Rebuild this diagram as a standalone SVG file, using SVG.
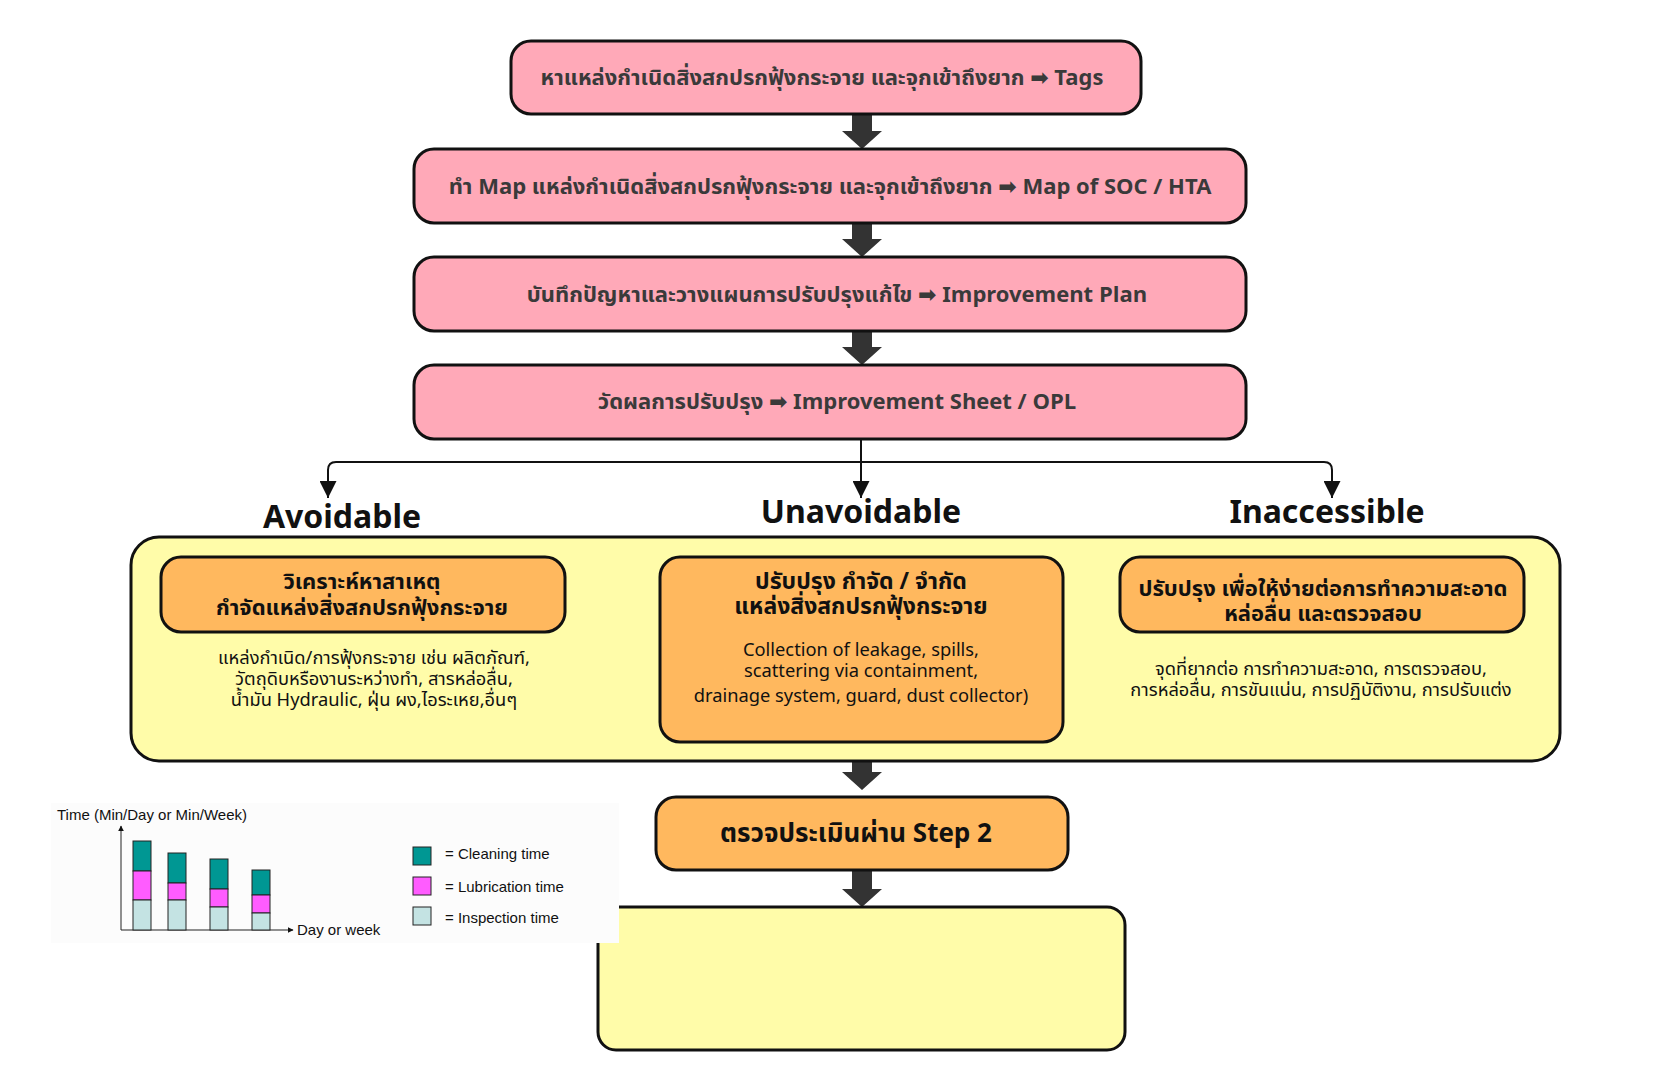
<svg xmlns="http://www.w3.org/2000/svg" width="1680" height="1080" viewBox="0 0 1680 1080">
  <defs>
    <style>
      .th { font-family: "Noto Sans Thai", "Noto Sans", "DejaVu Sans", sans-serif; }
      .step { fill: #ffa9b8; stroke: #111; stroke-width: 3; }
      .zone { fill: #fffca9; stroke: #111; stroke-width: 3; }
      .act { fill: #ffb85e; stroke: #111; stroke-width: 3; }
      .steptxt { font-size: 22px; font-weight: 700; fill: #3a3a3a; text-anchor: middle; }
      .acttxt { font-size: 22px; font-weight: 700; fill: #111; text-anchor: middle; }
      .note { font-size: 18.3px; fill: #111; text-anchor: middle; }
      .head { font-family: "Noto Sans", "DejaVu Sans", sans-serif; font-size: 32px; font-weight: 700; fill: #111; text-anchor: middle; }
      .arr { font-family: "DejaVu Sans", sans-serif; }
      .flow { fill: #333; }
      .branch { fill: none; stroke: #111; stroke-width: 2; }
      .chart { font-family: "Liberation Sans", Arial, sans-serif; font-size: 15px; fill: #111; }
      .bar { stroke: #222; stroke-width: 1; }
    </style>
    <marker id="tri" viewBox="0 0 10 10" refX="10" refY="5" markerWidth="17" markerHeight="17" markerUnits="userSpaceOnUse" orient="auto">
      <path d="M0,0 L10,5 L0,10 Z" fill="#111"/>
    </marker>
    <marker id="tri-s" viewBox="0 0 10 10" refX="9" refY="5" markerWidth="6" markerHeight="6" markerUnits="userSpaceOnUse" orient="auto">
      <path d="M0,0 L10,5 L0,10 Z" fill="#111"/>
    </marker>
    <!-- thick downward block arrow, origin at tip -->
    <path id="down" d="M-10,-42 H10 V-18 H20 L0,0 L-20,-18 H-10 Z"/>
  </defs>

  <rect width="1680" height="1080" fill="#fff"/>

  <!-- connectors -->
  <g id="connectors">
    <use href="#down" class="flow" x="862" y="149"/>
    <use href="#down" class="flow" x="862" y="257"/>
    <use href="#down" class="flow" x="862" y="365"/>
    <path class="branch" d="M861,439 V498" marker-end="url(#tri)"/>
    <path class="branch" d="M861,462 H336 Q328,462 328,470 V498" marker-end="url(#tri)"/>
    <path class="branch" d="M861,462 H1324 Q1332,462 1332,470 V498" marker-end="url(#tri)"/>
    <use href="#down" class="flow" x="862" y="790"/>
    <use href="#down" class="flow" x="862" y="907"/>
  </g>

  <!-- sequential steps -->
  <g id="step-tags">
    <rect class="step" x="511" y="41" width="630" height="73" rx="20"/>
    <text class="th steptxt" x="822" y="85">หาแหล่งกำเนิดสิ่งสกปรกฟุ้งกระจาย และจุกเข้าถึงยาก <tspan class="arr">➡</tspan> Tags</text>
  </g>
  <g id="step-map">
    <rect class="step" x="414" y="149" width="832" height="74" rx="20"/>
    <text class="th steptxt" x="830" y="194">ทำ Map แหล่งกำเนิดสิ่งสกปรกฟุ้งกระจาย และจุกเข้าถึงยาก <tspan class="arr">➡</tspan> Map of SOC / HTA</text>
  </g>
  <g id="step-plan">
    <rect class="step" x="414" y="257" width="832" height="74" rx="20"/>
    <text class="th steptxt" x="837" y="302">บันทึกปัญหาและวางแผนการปรับปรุงแก้ไข <tspan class="arr">➡</tspan> Improvement Plan</text>
  </g>
  <g id="step-measure">
    <rect class="step" x="414" y="365" width="832" height="74" rx="20"/>
    <text class="th steptxt" x="837" y="409">วัดผลการปรับปรุง <tspan class="arr">➡</tspan> Improvement Sheet / OPL</text>
  </g>

  <!-- category headings -->
  <g id="label-avoidable"><text class="head" x="342" y="528">Avoidable</text></g>
  <g id="label-unavoidable"><text class="head" x="861" y="523">Unavoidable</text></g>
  <g id="label-inaccessible"><text class="head" x="1327" y="523">Inaccessible</text></g>

  <!-- countermeasure zone -->
  <g id="zone">
    <rect class="zone" x="131" y="537" width="1429" height="224" rx="28"/>
  </g>
  <g id="act-avoidable">
    <rect class="act" x="161" y="557" width="404" height="75" rx="20"/>
    <text class="th acttxt" x="362" y="589">วิเคราะห์หาสาเหตุ</text>
    <text class="th acttxt" x="362" y="615">กำจัดแหล่งสิ่งสกปรกฟุ้งกระจาย</text>
    <text class="th note" x="374" y="664">แหล่งกำเนิด/การฟุ้งกระจาย เช่น ผลิตภัณฑ์,</text>
    <text class="th note" x="374" y="685">วัตถุดิบหรืองานระหว่างทำ, สารหล่อลื่น,</text>
    <text class="th note" x="374" y="706">น้ำมัน Hydraulic, ฝุ่น ผง,ไอระเหย,อื่นๆ</text>
  </g>
  <g id="act-unavoidable">
    <rect class="act" x="660" y="557" width="403" height="185" rx="20"/>
    <text class="th acttxt" x="861" y="589" style="font-size:23px">ปรับปรุง กำจัด / จำกัด</text>
    <text class="th acttxt" x="861" y="614" style="font-size:23px">แหล่งสิ่งสกปรกฟุ้งกระจาย</text>
    <text class="th note" x="861" y="656">Collection of leakage, spills,</text>
    <text class="th note" x="861" y="677">scattering via containment,</text>
    <text class="th note" x="861" y="702">drainage system, guard, dust collector)</text>
  </g>
  <g id="act-inaccessible">
    <rect class="act" x="1120" y="557" width="404" height="75" rx="20"/>
    <text class="th acttxt" x="1323" y="596">ปรับปรุง เพื่อให้ง่ายต่อการทำความสะอาด</text>
    <text class="th acttxt" x="1323" y="621">หล่อลื่น และตรวจสอบ</text>
    <text class="th note" x="1321" y="675">จุดที่ยากต่อ การทำความสะอาด, การตรวจสอบ,</text>
    <text class="th note" x="1321" y="696">การหล่อลื่น, การขันแน่น, การปฏิบัติงาน, การปรับแต่ง</text>
  </g>

  <g id="step-evaluate">
    <rect class="act" x="656" y="797" width="412" height="73" rx="20"/>
    <text class="th acttxt" x="856" y="842" style="font-size:26px">ตรวจประเมินผ่าน Step 2</text>
  </g>
  <g id="step-result">
    <rect class="zone" x="598" y="907" width="527" height="143" rx="18"/>
  </g>

  <!-- time trend chart -->
  <g id="time-chart">
    <rect x="51" y="803" width="568" height="140" fill="#fcfcfc"/>
    <text class="chart" x="57" y="820">Time (Min/Day or Min/Week)</text>
    <path d="M121,930 V826" stroke="#222" stroke-width="1" marker-end="url(#tri-s)"/>
    <path d="M121,930 H293" stroke="#222" stroke-width="1" marker-end="url(#tri-s)"/>
    <text class="chart" x="297" y="935">Day or week</text>
    <g class="bar">
      <rect x="133" y="841" width="18" height="30" fill="#009793"/>
      <rect x="133" y="871" width="18" height="29" fill="#ff5cff"/>
      <rect x="133" y="900" width="18" height="30" fill="#c4e3e3"/>
      <rect x="168" y="853" width="18" height="30" fill="#009793"/>
      <rect x="168" y="883" width="18" height="17" fill="#ff5cff"/>
      <rect x="168" y="900" width="18" height="30" fill="#c4e3e3"/>
      <rect x="210" y="859" width="18" height="30" fill="#009793"/>
      <rect x="210" y="889" width="18" height="18" fill="#ff5cff"/>
      <rect x="210" y="907" width="18" height="23" fill="#c4e3e3"/>
      <rect x="252" y="870" width="18" height="25" fill="#009793"/>
      <rect x="252" y="895" width="18" height="18" fill="#ff5cff"/>
      <rect x="252" y="913" width="18" height="17" fill="#c4e3e3"/>
      <rect x="413" y="847" width="18" height="18" fill="#009793"/>
      <rect x="413" y="877" width="18" height="18" fill="#ff5cff"/>
      <rect x="413" y="907" width="18" height="18" fill="#c4e3e3"/>
    </g>
    <text class="chart" x="445" y="859">= Cleaning time</text>
    <text class="chart" x="445" y="892">= Lubrication time</text>
    <text class="chart" x="445" y="923">= Inspection time</text>
  </g>
</svg>
